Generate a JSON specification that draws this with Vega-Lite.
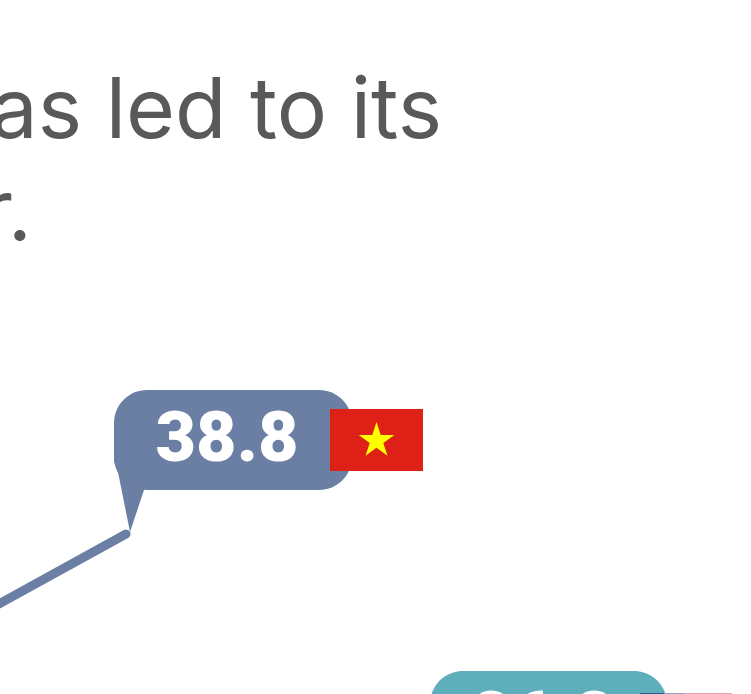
{"$schema":"https://vega.github.io/schema/vega-lite/v6.json","width":751,"height":694,"padding":0,"autosize":{"type":"none"},"background":"#ffffff","config":{"view":{"stroke":null}},
"layer":[
{"data":{"values":[{"year":-1,"value":31.3},{"year":12.6,"value":38.8}]},"mark":{"type":"line","color":"#6b7ea3","strokeWidth":9,"strokeCap":"round","clip":true},"encoding":{"x":{"field":"year","type":"quantitative","scale":{"domain":[0,75.1]},"axis":null},"y":{"field":"value","type":"quantitative","scale":{"domain":[22.8,92.2]},"axis":null}}},
{"data":{"values":[{"year":11.4,"top":46.6,"bottom":46.1},{"year":11.8,"top":46.6,"bottom":45.0},{"year":13.0,"top":46.6,"bottom":39.0},{"year":14.4,"top":46.6,"bottom":43.2}]},"mark":{"type":"area","color":"#6b7ea3","clip":true},"encoding":{"x":{"field":"year","type":"quantitative","scale":{"domain":[0,75.1]},"axis":null},"y":{"field":"top","type":"quantitative","scale":{"domain":[22.8,92.2]},"axis":null},"y2":{"field":"bottom"}}},
{"data":{"values":[{"start":11.4,"end":35.2,"low":43.2,"high":53.2,"part":"Vietnam"},{"start":43.0,"end":66.7,"low":15.1,"high":25.1,"part":"Other"}]},"mark":{"type":"rect","cornerRadius":33,"clip":true},"encoding":{"x":{"field":"start","type":"quantitative","scale":{"domain":[0,75.1]},"axis":null},"x2":{"field":"end"},"y":{"field":"low","type":"quantitative","scale":{"domain":[22.8,92.2]},"axis":null},"y2":{"field":"high"},"fill":{"field":"part","type":"nominal","legend":null,"scale":{"domain":["Vietnam","Other","red","navy","lavender","pink"],"range":["#6b7ea3","#5eaebc","#de2016","#2b5a94","#9a9ac8","#eda0a8"]}}}},
{"data":{"values":[{"start":33.0,"end":42.3,"low":45.1,"high":51.3,"part":"red"},{"start":64.0,"end":66.4,"low":15,"high":22.9,"part":"navy"},{"start":66.4,"end":68.5,"low":15,"high":22.9,"part":"lavender"},{"start":68.5,"end":73.2,"low":15,"high":22.9,"part":"pink"}]},"mark":{"type":"rect","clip":true},"encoding":{"x":{"field":"start","type":"quantitative","scale":{"domain":[0,75.1]},"axis":null},"x2":{"field":"end"},"y":{"field":"low","type":"quantitative","scale":{"domain":[22.8,92.2]},"axis":null},"y2":{"field":"high"},"fill":{"field":"part","type":"nominal","legend":null,"scale":{"domain":["Vietnam","Other","red","navy","lavender","pink"],"range":["#6b7ea3","#5eaebc","#de2016","#2b5a94","#9a9ac8","#eda0a8"]}}}},
{"data":{"values":[{"year":37.65,"value":48.13}]},"mark":{"type":"point","shape":"M0,-1L0.2245,-0.309L0.951,-0.309L0.363,0.118L0.588,0.809L0,0.382L-0.588,0.809L-0.363,0.118L-0.951,-0.309L-0.2245,-0.309Z","filled":true,"color":"#ffff00","opacity":1,"size":1399,"strokeWidth":0},"encoding":{"x":{"field":"year","type":"quantitative","scale":{"domain":[0,75.1]},"axis":null},"y":{"field":"value","type":"quantitative","scale":{"domain":[22.8,92.2]},"axis":null}}},
{"data":{"values":[{"year":22.7,"value":46.1,"label":"38.8"},{"year":54.3,"value":18.1,"label":"36.8"}]},"mark":{"type":"text","font":"Roboto","fontWeight":900,"fontSize":70,"color":"#ffffff","align":"center","baseline":"alphabetic","clip":true},"encoding":{"x":{"field":"year","type":"quantitative","scale":{"domain":[0,75.1]},"axis":null},"y":{"field":"value","type":"quantitative","scale":{"domain":[22.8,92.2]},"axis":null},"text":{"field":"label"}}},
{"data":{"values":[{"year":44.2,"value":78.4,"label":"has led to its"},{"year":3.2,"value":68.2,"label":"sector."}]},"mark":{"type":"text","font":"Inter","fontWeight":400,"fontSize":84,"color":"#58595b","align":"right","baseline":"alphabetic"},"encoding":{"x":{"field":"year","type":"quantitative","scale":{"domain":[0,75.1]},"axis":null},"y":{"field":"value","type":"quantitative","scale":{"domain":[22.8,92.2]},"axis":null},"text":{"field":"label"}}}
]}
